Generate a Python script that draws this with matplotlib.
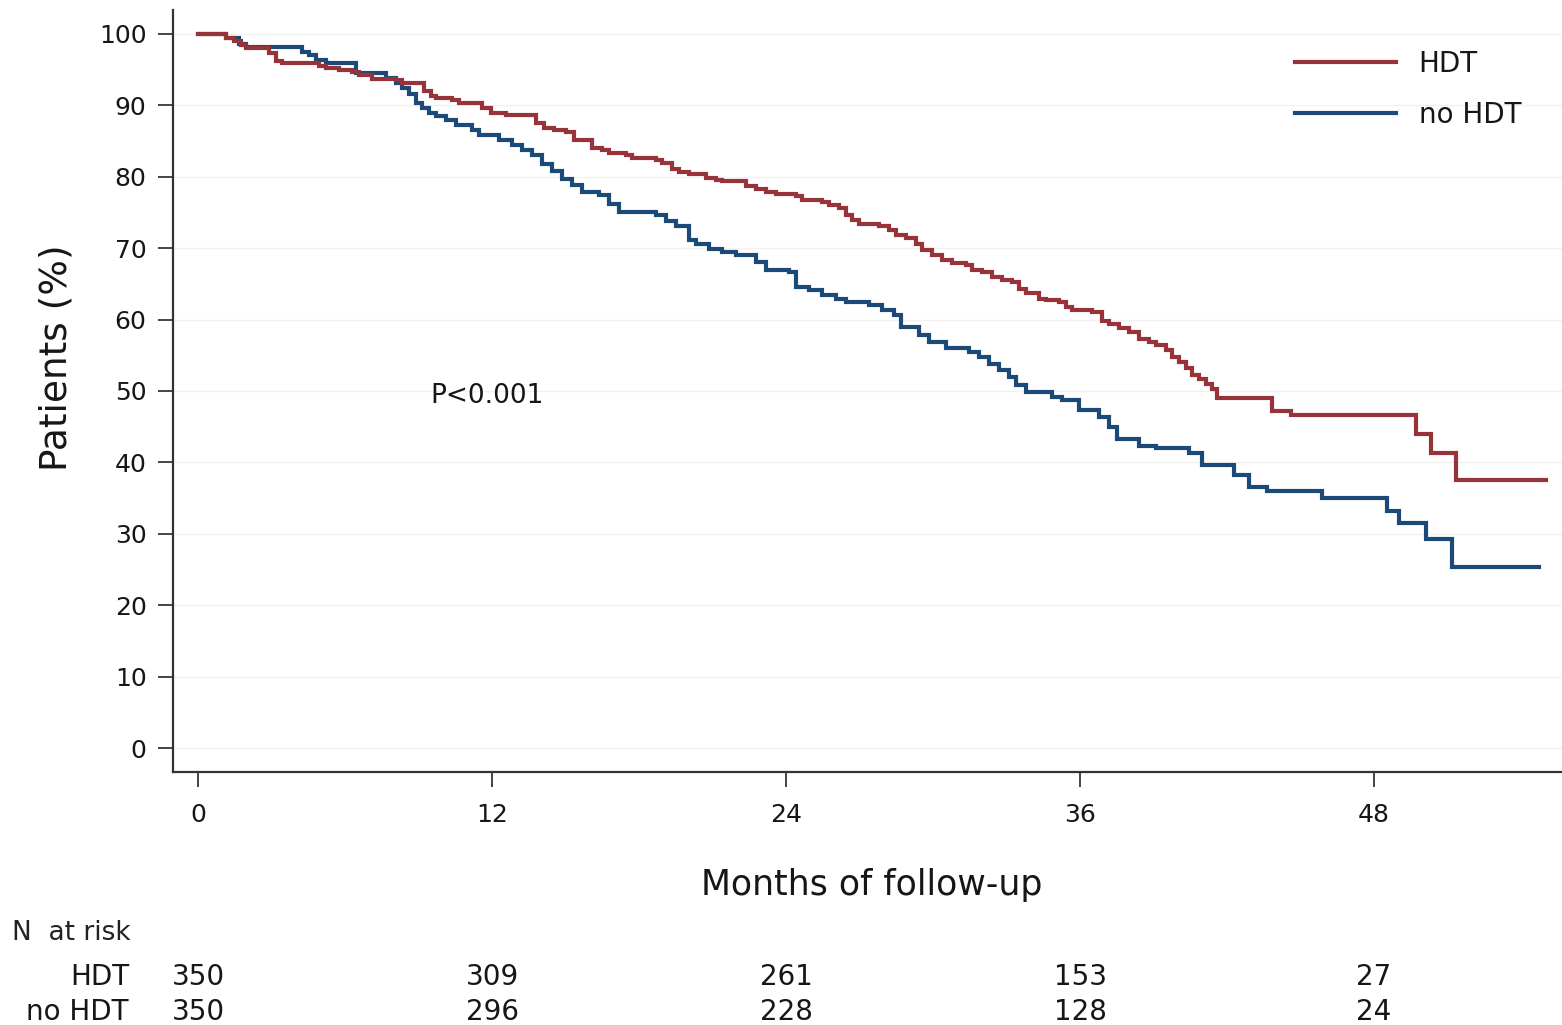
import matplotlib
matplotlib.use("Agg")
import matplotlib.pyplot as plt
import matplotlib.transforms as mtransforms
from matplotlib.lines import Line2D

plt.rcParams['font.family'] = ['DejaVu Sans']

# ---------------- data ----------------
hdt_t = [0, 1.14, 1.47, 1.76, 1.96, 2.90, 3.18, 3.43, 4.94, 5.22,
         5.76, 6.29, 6.57, 7.10, 8.08, 8.33, 9.22, 9.51, 9.71, 10.37,
         10.65, 11.59, 11.96, 12.57, 13.80, 14.12, 14.53, 15.02, 15.35, 16.08,
         16.49, 16.78, 17.47, 17.71, 18.69, 18.94, 19.35, 19.63, 20.04, 20.73,
         21.14, 21.39, 22.37, 22.78, 23.18, 23.59, 24.41, 24.65, 25.47, 25.76,
         26.16, 26.45, 26.69, 26.98, 27.80, 28.20, 28.49, 28.90, 29.31, 29.55,
         29.96, 30.37, 30.78, 31.35, 31.59, 32.00, 32.41, 32.82, 33.22, 33.51,
         33.80, 34.33, 34.61, 35.14, 35.43, 35.67, 36.49, 36.90, 37.18, 37.59,
         38.00, 38.41, 38.82, 39.10, 39.51, 39.76, 40.04, 40.33, 40.57, 40.86,
         41.14, 41.39, 41.59, 43.84, 44.61, 49.71, 50.33, 51.35, 55.02]
hdt_s = [100, 99.4, 99.0, 98.5, 98.0, 97.3, 96.2, 96.0, 95.5, 95.3,
         95.0, 94.7, 94.3, 93.7, 93.5, 93.2, 92.0, 91.3, 91.0, 90.7,
         90.4, 89.6, 89.0, 88.7, 87.6, 86.8, 86.6, 86.3, 85.1, 84.1,
         83.7, 83.4, 83.1, 82.7, 82.3, 81.9, 81.1, 80.7, 80.4, 79.8,
         79.6, 79.4, 78.7, 78.3, 77.9, 77.6, 77.3, 76.8, 76.5, 76.0,
         75.6, 74.6, 74.0, 73.4, 73.1, 72.5, 71.8, 71.4, 70.6, 69.8,
         69.0, 68.3, 67.9, 67.6, 66.9, 66.7, 66.0, 65.6, 65.2, 64.3,
         63.7, 62.9, 62.7, 62.4, 61.7, 61.3, 61.0, 59.8, 59.4, 58.8,
         58.2, 57.3, 56.9, 56.4, 55.7, 54.8, 54.1, 53.2, 52.2, 51.7,
         51.0, 50.3, 49.0, 47.2, 46.6, 44.0, 41.3, 37.5, 37.5]

nohdt_t = [0, 1.14, 1.67, 1.96, 4.24, 4.53, 4.82, 5.22, 6.45, 7.67,
           8.08, 8.33, 8.61, 8.90, 9.14, 9.43, 9.71, 10.12, 10.53, 11.18,
           11.47, 12.29, 12.82, 13.22, 13.63, 14.04, 14.45, 14.86, 15.27, 15.67,
           16.37, 16.78, 17.18, 18.69, 19.10, 19.51, 20.04, 20.33, 20.86, 21.39,
           21.96, 22.78, 23.18, 24.12, 24.41, 24.94, 25.47, 26.04, 26.45, 27.39,
           27.92, 28.41, 28.69, 29.43, 29.84, 30.53, 31.47, 31.88, 32.29, 32.69,
           33.10, 33.39, 33.80, 34.86, 35.27, 35.96, 36.78, 37.18, 37.51, 38.41,
           39.10, 40.45, 40.98, 42.29, 42.90, 43.63, 45.88, 48.53, 49.02, 50.12,
           51.18, 54.73]
nohdt_s = [100, 99.4, 98.6, 98.2, 97.5, 97.0, 96.4, 95.9, 94.5, 93.9,
           93.2, 92.5, 91.6, 90.4, 89.6, 89.0, 88.5, 87.9, 87.3, 86.5,
           85.8, 85.1, 84.4, 83.7, 83.0, 81.8, 80.8, 79.7, 78.8, 77.9,
           77.4, 76.2, 75.0, 74.6, 73.8, 73.1, 71.1, 70.6, 69.9, 69.5,
           69.1, 68.1, 67.0, 66.6, 64.6, 64.1, 63.5, 62.9, 62.4, 62.0,
           61.3, 60.6, 59.0, 57.8, 56.9, 56.0, 55.5, 54.8, 53.8, 52.9,
           52.0, 50.9, 49.9, 49.2, 48.7, 47.3, 46.4, 45.0, 43.3, 42.3,
           42.0, 41.3, 39.7, 38.2, 36.6, 36.0, 35.0, 33.2, 31.5, 29.3,
           25.3, 25.3]

group_labels = ["HDT", "no HDT"]
x_ticks = [0, 12, 24, 36, 48]
y_ticks = [0, 10, 20, 30, 40, 50, 60, 70, 80, 90, 100]
risk_hdt = [350, 309, 261, 153, 27]
risk_nohdt = [350, 296, 228, 128, 24]
p_text = "P<0.001"

red = "#983339"
blue = "#1c4a78"
txt = "#161616"

# ---------------- figure ----------------
W, H = 1562, 1025
fig = plt.figure(figsize=(W / 100, H / 100), dpi=100)
ax = fig.add_axes([173 / W, 1 - 772 / H, (W - 173) / W, (772 - 10) / H])
ax.set_xlim(-1.02, 55.67)
ax.set_ylim(-3.36, 103.36)

ax.yaxis.grid(True, color="#f1f1f1", lw=1.0)
ax.set_axisbelow(True)

ax.step(nohdt_t, nohdt_s, where="post", color=blue, lw=3.0, solid_joinstyle="miter")
ax.step(hdt_t, hdt_s, where="post", color=red, lw=3.0, solid_joinstyle="miter")

for s in ["top", "right"]:
    ax.spines[s].set_visible(False)
for s in ["left", "bottom"]:
    ax.spines[s].set_color("#333333")
    ax.spines[s].set_linewidth(1.6)

ax.set_xticks(x_ticks)
ax.set_yticks(y_ticks)
ax.tick_params(axis="both", direction="out", length=11, width=1.4,
               color="#444444", labelsize=18, labelcolor=txt)
ax.tick_params(axis="y", pad=8)
ax.tick_params(axis="x", pad=11)

ax.text(9.47, 49.3, p_text, fontsize=19, va="center", ha="left", color=txt)

# legend
handles = [Line2D([], [], color=red, lw=3.0), Line2D([], [], color=blue, lw=3.0)]
ax.legend(handles, group_labels, loc="upper left", frameon=False,
          bbox_to_anchor=(1295 / W, 1 - 50 / H), bbox_transform=fig.transFigure,
          borderpad=0, borderaxespad=0, handlelength=3.65, handletextpad=0.8,
          labelspacing=0.82, fontsize=20, labelcolor=txt)

# axis labels
fig.text(872 / W, 1 - 885 / H, "Months of follow-up", fontsize=25,
         ha="center", va="center", color=txt)
fig.text(57 / W, 1 - 358 / H, "Patients (%)", fontsize=27, rotation=90,
         ha="center", va="center", color=txt)

# risk table
trans = mtransforms.blended_transform_factory(ax.transData, fig.transFigure)
fig.text(12 / W, 1 - 933 / H, "N  at risk", fontsize=19, ha="left", va="center", color="#222222")
fig.text(129 / W, 1 - 977 / H, group_labels[0], fontsize=20, ha="right", va="center", color=txt)
fig.text(129 / W, 1 - 1012 / H, group_labels[1], fontsize=20, ha="right", va="center", color=txt)
for xt, a, b in zip(x_ticks, risk_hdt, risk_nohdt):
    ax.text(xt, 1 - 977 / H, str(a), transform=trans, fontsize=20,
            ha="center", va="center", color=txt, clip_on=False)
    ax.text(xt, 1 - 1012 / H, str(b), transform=trans, fontsize=20,
            ha="center", va="center", color=txt, clip_on=False)

fig.savefig("out.png", dpi=100)
